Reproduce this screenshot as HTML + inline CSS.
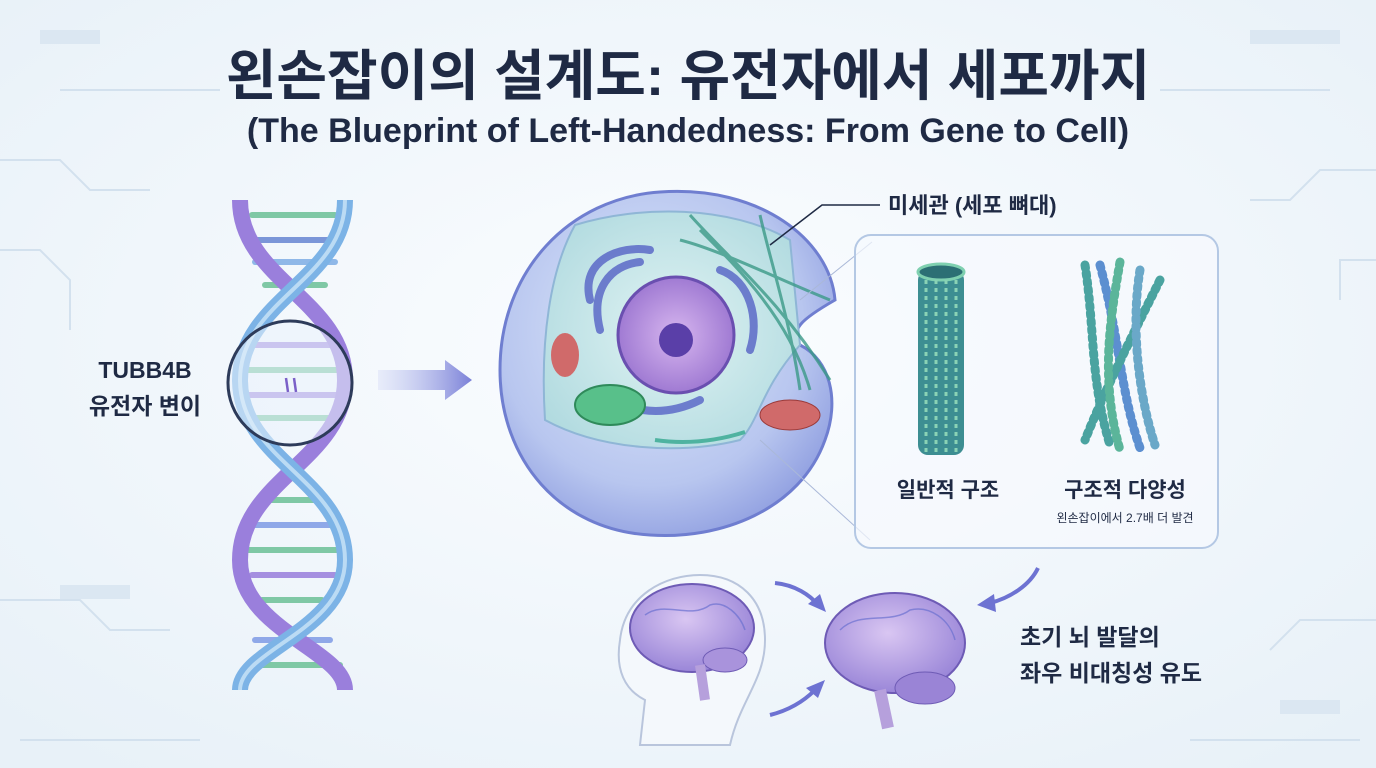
<!DOCTYPE html>
<html><head><meta charset="utf-8">
<style>
html,body{margin:0;padding:0;}
body{width:1376px;height:768px;overflow:hidden;background:#f2f7fb;font-family:"Liberation Sans","Noto Sans CJK KR",sans-serif;}
svg{position:absolute;left:0;top:0;}
</style></head><body>
<svg width="1376" height="768" viewBox="0 0 1376 768" xmlns="http://www.w3.org/2000/svg">
<defs>
<radialGradient id="bg" cx="50%" cy="45%" r="70%"><stop offset="0" stop-color="#fbfdff"/><stop offset="1" stop-color="#e8f1f8"/></radialGradient>
<radialGradient id="cell" cx="45%" cy="40%" r="65%"><stop offset="0" stop-color="#dfe9fb"/><stop offset="0.7" stop-color="#b8c6ef"/><stop offset="1" stop-color="#8f9ee0"/></radialGradient>
<radialGradient id="inner" cx="50%" cy="50%" r="60%"><stop offset="0" stop-color="#e0f3f3"/><stop offset="1" stop-color="#b2dbe0"/></radialGradient>
<radialGradient id="nuc" cx="50%" cy="50%" r="55%"><stop offset="0" stop-color="#d7b6ef"/><stop offset="1" stop-color="#9a74d0"/></radialGradient>
<radialGradient id="brain" cx="45%" cy="40%" r="60%"><stop offset="0" stop-color="#d9c6f2"/><stop offset="1" stop-color="#9a86d8"/></radialGradient>
<linearGradient id="arr" x1="0" x2="1"><stop offset="0" stop-color="#c9cff3" stop-opacity="0.3"/><stop offset="1" stop-color="#7a80d8"/></linearGradient>
</defs>
<rect width="1376" height="768" fill="url(#bg)"/>
<g stroke="#d3e1ee" stroke-width="2" fill="none">
<path d="M0 160 H60 L90 190 H150"/><path d="M0 250 H40 L70 280 V330"/><path d="M1376 170 H1320 L1290 200 H1250"/><path d="M1376 260 H1340 V300"/>
<path d="M0 600 H80 L110 630 H170"/><path d="M1376 620 H1300 L1270 650"/><path d="M20 740 H200"/><path d="M1190 740 H1360"/>
<path d="M60 90 H220"/><path d="M1160 90 H1330"/>
<rect x="40" y="30" width="60" height="14" fill="#dbe7f2" stroke="none"/><rect x="1250" y="30" width="90" height="14" fill="#dbe7f2" stroke="none"/>
<rect x="60" y="585" width="70" height="14" fill="#dbe7f2" stroke="none"/><rect x="1280" y="700" width="60" height="14" fill="#dbe7f2" stroke="none"/>
</g>
<text x="688" y="95" text-anchor="middle" font-size="55" font-weight="bold" fill="#1f2a44">왼손잡이의 설계도: 유전자에서 세포까지</text>
<text x="688" y="142" text-anchor="middle" font-size="34" font-weight="bold" fill="#1f2a44">(The Blueprint of Left-Handedness: From Gene to Cell)</text>

<g>
<g stroke-width="6" stroke-linecap="round">
<line x1="252" y1="215" x2="335" y2="215" stroke="#7fc8a5"/><line x1="250" y1="240" x2="340" y2="240" stroke="#7b96d8"/>
<line x1="255" y1="262" x2="335" y2="262" stroke="#8fb8e8"/><line x1="265" y1="285" x2="325" y2="285" stroke="#7fc8a5"/>
<line x1="245" y1="345" x2="335" y2="345" stroke="#a58fe0"/><line x1="242" y1="370" x2="338" y2="370" stroke="#7fc8a5"/>
<line x1="242" y1="395" x2="338" y2="395" stroke="#a58fe0"/><line x1="245" y1="418" x2="335" y2="418" stroke="#7fc8a5"/>
<line x1="262" y1="500" x2="320" y2="500" stroke="#7fc8a5"/><line x1="250" y1="525" x2="335" y2="525" stroke="#8fa8e8"/>
<line x1="248" y1="550" x2="338" y2="550" stroke="#7fc8a5"/><line x1="252" y1="575" x2="335" y2="575" stroke="#a58fe0"/>
<line x1="262" y1="600" x2="322" y2="600" stroke="#7fc8a5"/><line x1="255" y1="640" x2="330" y2="640" stroke="#8fa8e8"/>
<line x1="250" y1="665" x2="340" y2="665" stroke="#7fc8a5"/>
</g>
<path d="M240 200 C240 280 345 300 345 380 C345 460 240 480 240 560 C240 630 345 650 345 690" fill="none" stroke="#9a7fdc" stroke-width="16"/>
<path d="M345 200 C345 280 240 300 240 380 C240 460 345 480 345 560 C345 630 240 650 240 690" fill="none" stroke="#7cb3e6" stroke-width="16"/>
<path d="M345 200 C345 280 240 300 240 380 C240 460 345 480 345 560 C345 630 240 650 240 690" fill="none" stroke="#d6ecfa" stroke-width="4" opacity="0.7"/>
<circle cx="290" cy="383" r="62" fill="#eaf3fb" fill-opacity="0.55" stroke="#2d3b5a" stroke-width="3"/>
<path d="M286 378 L288 392 M294 378 L296 392" stroke="#7a60c8" stroke-width="2.5"/>
</g>
<text x="145" y="378" text-anchor="middle" font-size="23" font-weight="bold" fill="#1f2a44">TUBB4B</text>
<text x="145" y="414" text-anchor="middle" font-size="23" font-weight="bold" fill="#1f2a44">유전자 변이</text>
<path d="M378 370 H445 V360 L472 380 L445 400 V390 H378 Z" fill="url(#arr)"/>

<g>
<path d="M660 192 C760 185 830 240 835 300 C800 320 790 330 800 345 C830 360 840 400 825 440 C800 510 720 540 650 535 C560 530 500 460 500 370 C500 270 570 198 660 192 Z" fill="url(#cell)" stroke="#6f7ed0" stroke-width="3"/>
<path d="M575 225 C640 205 730 205 790 240 L800 345 C760 390 760 420 740 440 C680 455 600 450 545 420 C540 340 550 270 575 225 Z" fill="url(#inner)" stroke="#8fb6d6" stroke-width="2"/>
<g fill="none" stroke="#5c6ac8" stroke-width="8" stroke-linecap="round" opacity="0.85">
<path d="M590 300 C580 260 620 245 650 250"/><path d="M600 330 C590 290 610 265 640 262"/>
<path d="M720 270 C750 280 760 320 750 350"/><path d="M700 400 C660 420 620 410 600 390"/>
</g>
<circle cx="676" cy="335" r="58" fill="url(#nuc)" stroke="#6a4fb0" stroke-width="3"/>
<circle cx="676" cy="340" r="17" fill="#5a3fa8"/>
<g fill="none" stroke="#3c9a88" stroke-width="3" opacity="0.8">
<path d="M690 215 C730 260 780 300 830 380"/><path d="M700 230 C740 270 790 320 810 390"/>
<path d="M760 215 C770 260 790 320 800 390"/><path d="M680 240 C720 250 780 280 830 300"/>
</g>
<ellipse cx="610" cy="405" rx="35" ry="20" fill="#58c08a" stroke="#2f8a5a" stroke-width="2"/>
<ellipse cx="565" cy="355" rx="14" ry="22" fill="#d06a6a"/>
<ellipse cx="790" cy="415" rx="30" ry="15" fill="#d06a6a" stroke="#9a3a3a"/>
<path d="M655 440 C690 445 720 440 745 432" stroke="#4fb3a0" stroke-width="4" fill="none"/>
</g>
<polyline points="770,245 822,205 880,205" fill="none" stroke="#1f2a44" stroke-width="1.5"/>
<text x="888" y="213" font-size="22" font-weight="bold" fill="#1f2a44">미세관 (세포 뼈대)</text>
<line x1="800" y1="300" x2="872" y2="242" stroke="#aab8d8" stroke-width="1"/>
<line x1="760" y1="440" x2="870" y2="540" stroke="#aab8d8" stroke-width="1"/>
<rect x="855" y="235" width="363" height="313" rx="16" fill="#f6fafe" fill-opacity="0.7" stroke="#b4c8e4" stroke-width="2"/>
<g>
<rect x="918" y="270" width="46" height="185" rx="10" fill="#3d8e92"/>
<ellipse cx="941" cy="272" rx="23" ry="8" fill="#2c6f74" stroke="#7fd0b0" stroke-width="3"/>
<g stroke="#8ad3b5" stroke-width="3" stroke-dasharray="4 4">
<line x1="926" y1="280" x2="926" y2="452"/><line x1="936" y1="280" x2="936" y2="452"/><line x1="946" y1="280" x2="946" y2="452"/><line x1="956" y1="280" x2="956" y2="452"/>
</g>
</g>
<g fill="none" stroke-width="9" stroke-linecap="round" stroke-dasharray="3 5">
<path d="M1085 265 C1095 330 1090 380 1110 445" stroke="#4aa3a0"/>
<path d="M1100 265 C1120 340 1120 390 1140 448" stroke="#5c8fd0"/>
<path d="M1160 280 C1130 340 1105 390 1085 440" stroke="#4aa3a0"/>
<path d="M1140 270 C1130 330 1140 400 1155 445" stroke="#6aa8c8"/>
<path d="M1120 262 C1110 320 1100 380 1120 450" stroke="#5bb59a"/>
</g>
<text x="948" y="497" text-anchor="middle" font-size="21" font-weight="bold" fill="#1f2a44">일반적 구조</text>
<text x="1125" y="497" text-anchor="middle" font-size="21" font-weight="bold" fill="#1f2a44">구조적 다양성</text>
<text x="1125" y="522" text-anchor="middle" font-size="12" fill="#1f2a44">왼손잡이에서 2.7배 더 발견</text>

<path d="M640 745 L645 700 C625 690 615 670 620 640 C625 595 665 575 700 575 C740 575 765 600 765 640 C765 680 740 700 730 745 Z" fill="#f4f8fc" stroke="#b9c5dc" stroke-width="2"/>
<ellipse cx="692" cy="628" rx="62" ry="44" fill="url(#brain)" stroke="#6e5bb5" stroke-width="2"/>
<ellipse cx="725" cy="660" rx="22" ry="12" fill="#a993dc" stroke="#6e5bb5"/>
<path d="M700 665 L705 700" stroke="#b6a0dc" stroke-width="10"/>
<ellipse cx="895" cy="643" rx="70" ry="50" fill="url(#brain)" stroke="#6e5bb5" stroke-width="2"/>
<ellipse cx="925" cy="688" rx="30" ry="16" fill="#9a84d6" stroke="#6e5bb5"/>
<path d="M880 690 L888 728" stroke="#b6a0dc" stroke-width="12"/>
<g fill="none" stroke="#6b70d0" stroke-width="1.5" opacity="0.7">
<path d="M645 615 C665 600 690 620 710 605 C725 600 740 615 745 630"/><path d="M840 630 C860 610 890 625 910 610 C930 605 950 620 955 640"/>
</g>
<g fill="none" stroke="#6d72d2" stroke-width="4">
<path d="M775 583 C795 585 810 595 818 605"/><path d="M770 715 C790 710 805 700 815 690"/><path d="M1038 568 C1030 585 1010 598 990 603"/>
</g>
<g fill="#6d72d2">
<polygon points="826,612 808,604 820,594"/><polygon points="825,680 806,688 818,698"/><polygon points="977,605 994,594 996,612"/>
</g>
<text x="1020" y="645" font-size="23" font-weight="bold" fill="#1f2a44">초기 뇌 발달의</text>
<text x="1020" y="681" font-size="23" font-weight="bold" fill="#1f2a44">좌우 비대칭성 유도</text>
</svg>
</body></html>
